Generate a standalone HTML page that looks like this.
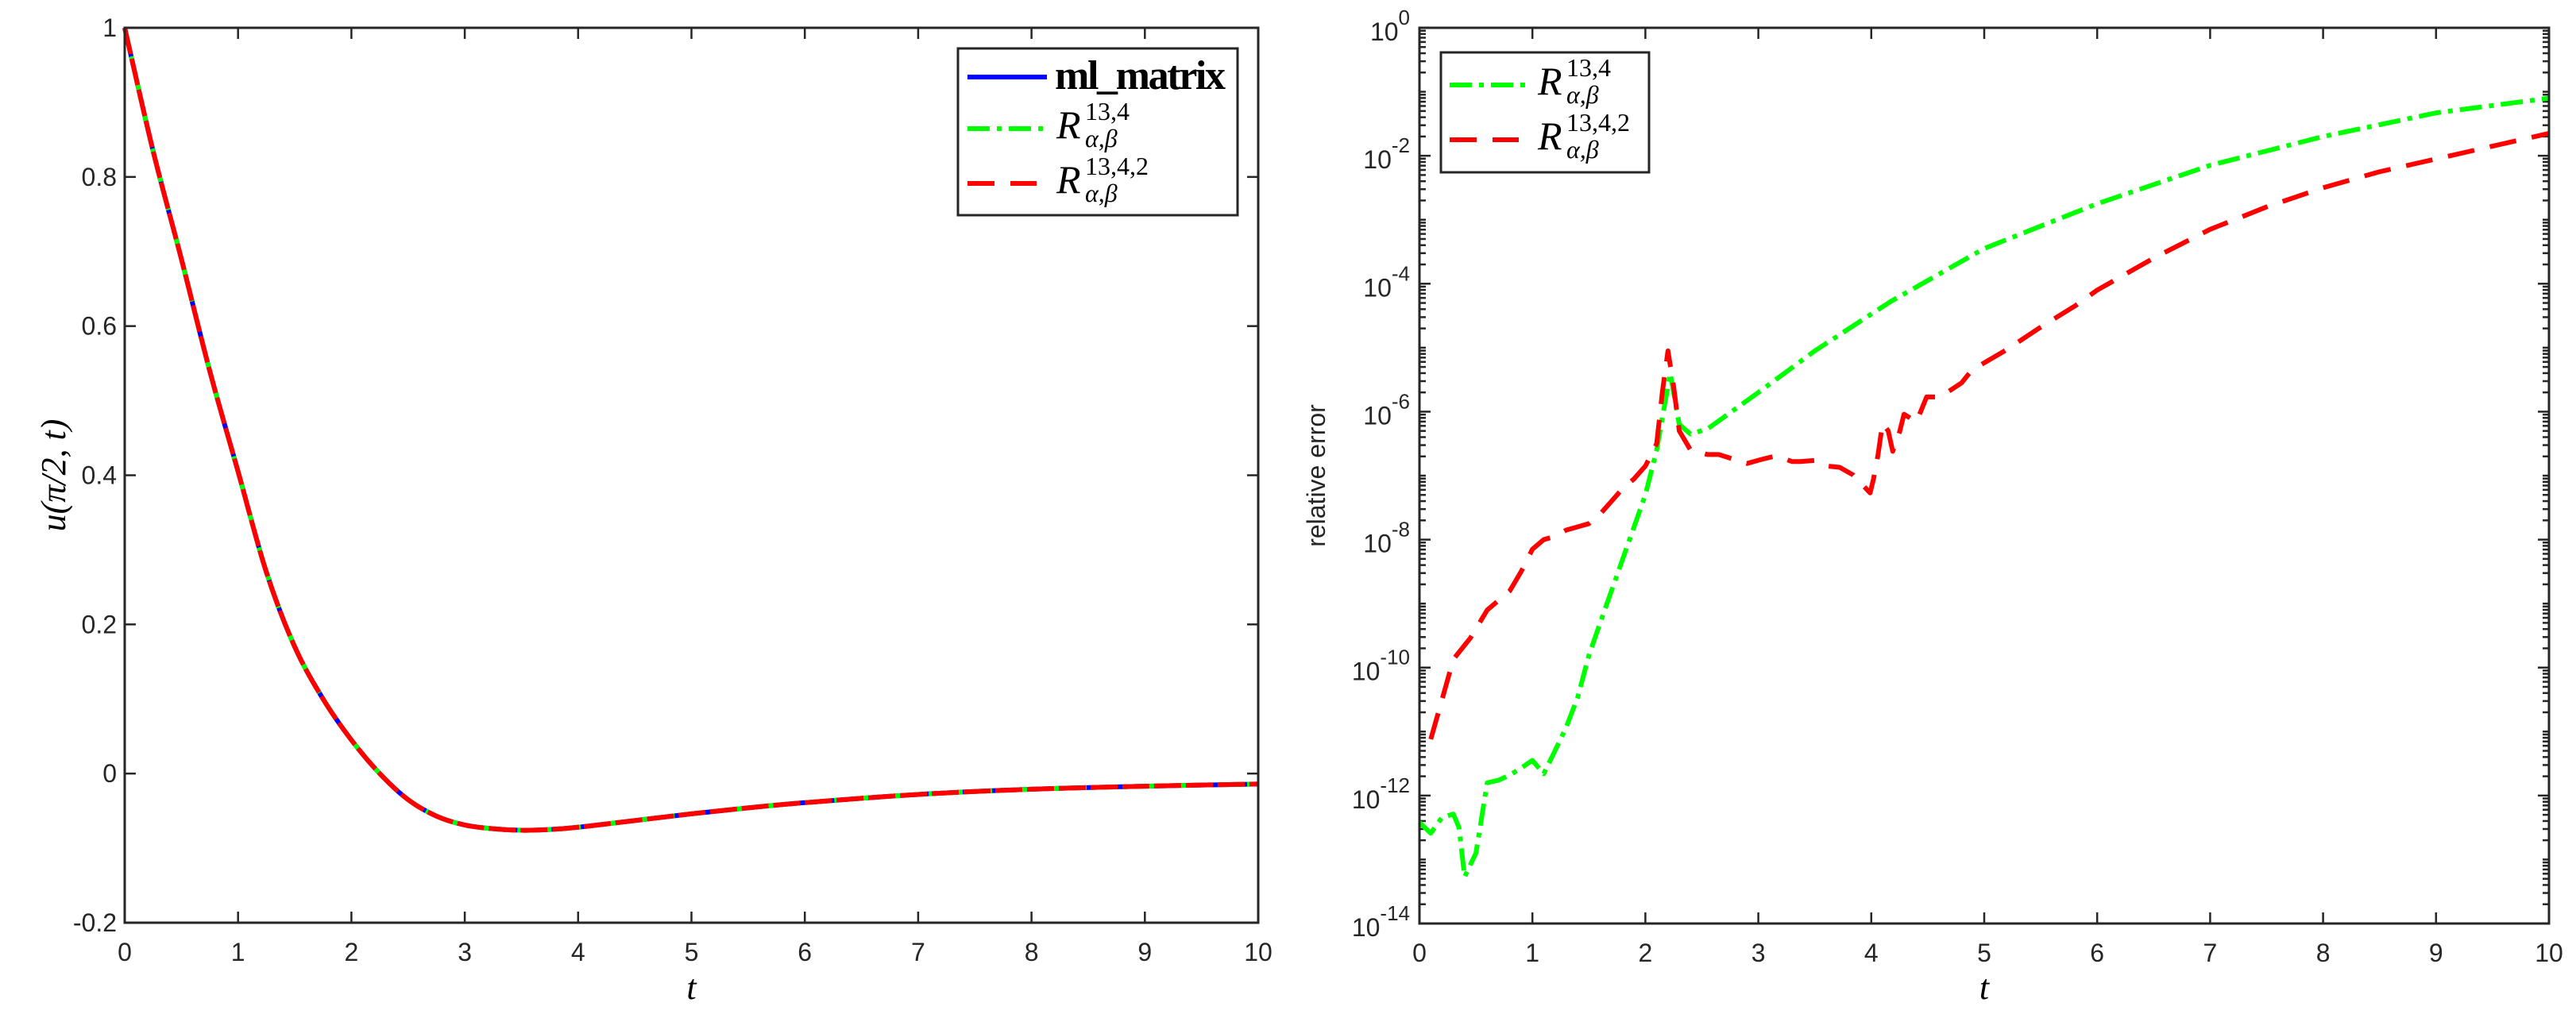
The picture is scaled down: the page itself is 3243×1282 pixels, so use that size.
<!DOCTYPE html>
<html><head><meta charset="utf-8">
<style>
html,body{margin:0;padding:0;background:#fff;}
svg{display:block;}
.tk{font-family:"Liberation Sans",sans-serif;font-size:32px;fill:#262626;}
.ser{font-family:"Liberation Serif",serif;}
</style></head>
<body>
<svg id="fig" width="3243" height="1282" viewBox="0 0 3243 1282" xmlns="http://www.w3.org/2000/svg">
<g id="left"></g>
<g id="right"></g>
</svg>
<script>
// ---- left chart data ----
const uT = [0,0.25,0.5,0.75,1,1.25,1.5,1.75,2,2.25,2.5,2.75,3,3.25,3.5,3.75,4,4.5,5,5.5,6,7,8,9,10];
const uVals = [1,0.835,0.69,0.54,0.405,0.27,0.17,0.10,0.045,0.0,-0.035,-0.057,-0.069,-0.074,-0.076,-0.075,-0.072,-0.063,-0.054,-0.046,-0.039,-0.028,-0.021,-0.017,-0.014];
const leftYTicks = [-0.2,0,0.2,0.4,0.6,0.8,1];
const leftYTickLabels = ["-0.2","0","0.2","0.4","0.6","0.8","1"];
const xTicks = [0,1,2,3,4,5,6,7,8,9,10];
// ---- right chart data ----
const greenT = [0,0.1,0.2,0.3,0.35,0.4,0.5,0.6,0.7,0.8,0.9,1.0,1.1,1.2,1.3,1.4,1.5,1.6,1.7,1.8,1.9,2.0,2.1,2.22,2.3,2.4,2.55,3,3.5,4.17,5,6,7,8,9,10];
const greenLog = [-12.42,-12.59,-12.34,-12.29,-12.5,-13.27,-12.9,-11.8,-11.76,-11.68,-11.57,-11.45,-11.66,-11.3,-10.93,-10.47,-9.81,-9.3,-8.8,-8.3,-7.8,-7.3,-6.6,-5.4,-6.2,-6.35,-6.27,-5.7,-5.05,-4.28,-3.45,-2.75,-2.15,-1.7,-1.33,-1.1];
const redT = [0.1,0.2,0.3,0.45,0.6,0.7,0.8,0.9,1.0,1.1,1.2,1.3,1.4,1.5,1.6,1.7,1.8,1.9,2.0,2.1,2.15,2.2,2.25,2.3,2.4,2.55,2.65,2.9,3.02,3.16,3.3,3.37,3.51,3.61,3.72,3.84,3.99,4.02,4.06,4.10,4.15,4.19,4.25,4.29,4.40,4.49,4.61,4.80,4.89,5.20,5.49,5.81,6,6.5,7,7.5,8,8.5,9,9.5,10];
const redLog = [-11.12,-10.5,-9.87,-9.54,-9.1,-8.95,-8.8,-8.5,-8.15,-8.0,-7.95,-7.85,-7.8,-7.75,-7.6,-7.4,-7.2,-7.05,-6.85,-6.5,-5.7,-5.05,-5.6,-6.3,-6.6,-6.67,-6.67,-6.81,-6.75,-6.69,-6.78,-6.78,-6.76,-6.85,-6.87,-6.99,-7.27,-7.05,-6.67,-6.18,-6.3,-6.62,-6.32,-6.04,-6.16,-5.77,-5.77,-5.55,-5.35,-5.03,-4.69,-4.34,-4.1,-3.6,-3.15,-2.8,-2.5,-2.25,-2.05,-1.85,-1.65];
const rightYMajor = [0,-2,-4,-6,-8,-10,-12,-14];

const NS="http://www.w3.org/2000/svg";
function mk(parent,tag,attrs,text){const e=document.createElementNS(NS,tag);for(const k in attrs)e.setAttribute(k,attrs[k]);if(text!==undefined)e.textContent=text;parent.appendChild(e);return e;}
const AX="#262626";

// ===== LEFT =====
const L={x0:157,x1:1584,y0:35,y1:1162};
const lx=t=>L.x0+(t-0)/10*(L.x1-L.x0);
const ly=v=>L.y1-(v+0.2)/1.2*(L.y1-L.y0);
const lg=document.getElementById('left');
xTicks.forEach(t=>{
  const a=mk(lg,'line',{x1:lx(t),x2:lx(t),y1:L.y1,y2:L.y1-14,stroke:AX,'stroke-width':2.5});
  
  mk(lg,'line',{x1:lx(t),x2:lx(t),y1:L.y0,y2:L.y0+14,stroke:AX,'stroke-width':2.5});
  const tx=mk(lg,'text',{x:lx(t),y:L.y1+48,'text-anchor':'middle',class:'tk'},String(t));
  
});
leftYTicks.forEach((v,i)=>{
  mk(lg,'line',{x1:L.x0,x2:L.x0+14,y1:ly(v),y2:ly(v),stroke:AX,'stroke-width':2.5});
  mk(lg,'line',{x1:L.x1,x2:L.x1-14,y1:ly(v),y2:ly(v),stroke:AX,'stroke-width':2.5});
  const tx=mk(lg,'text',{x:L.x0-10,y:ly(v)+11,'text-anchor':'end',class:'tk'},leftYTickLabels[i]);
  
});
function smoothPath(xs,ys){
  let d=`M${xs[0]},${ys[0]}`;
  for(let i=0;i<xs.length-1;i++){
    const x0=xs[Math.max(0,i-1)],y0=ys[Math.max(0,i-1)],x1=xs[i],y1=ys[i],x2=xs[i+1],y2=ys[i+1],x3=xs[Math.min(xs.length-1,i+2)],y3=ys[Math.min(xs.length-1,i+2)];
    d+=` C${x1+(x2-x0)/6},${y1+(y2-y0)/6} ${x2-(x3-x1)/6},${y2-(y3-y1)/6} ${x2},${y2}`;
  }
  return d;
}
const upx=uT.map(lx), upy=uVals.map(ly);
const ud=smoothPath(upx,upy);
const b=mk(lg,'path',{d:ud,fill:'none',stroke:'#0000ff','stroke-width':6});

const g=mk(lg,'path',{d:ud,fill:'none',stroke:'#00ff00','stroke-width':6,'stroke-dasharray':'28 9 6 9'});

const r=mk(lg,'path',{d:ud,fill:'none',stroke:'#ff0000','stroke-width':6,'stroke-dasharray':'34 6'});

mk(lg,'rect',{x:L.x0,y:L.y0,width:L.x1-L.x0,height:L.y1-L.y0,fill:'none',stroke:AX,'stroke-width':3});
const xl=mk(lg,'text',{x:(L.x0+L.x1)/2,y:1258,'text-anchor':'middle',class:'ser','font-size':44,'font-style':'italic',fill:'#000'},'t');

const yl=mk(lg,'text',{x:0,y:0,transform:`translate(82,${(L.y0+L.y1)/2}) rotate(-90)`,'text-anchor':'middle',class:'ser','font-size':44,'font-style':'italic',fill:'#000'},'u(π/2, t)');

// left legend
const lgd=mk(lg,'g',{});

mk(lgd,'rect',{x:1206,y:61,width:352,height:210,fill:'#fff',stroke:AX,'stroke-width':3});
mk(lgd,'line',{x1:1218,x2:1318,y1:97,y2:97,stroke:'#0000ff','stroke-width':6});
mk(lgd,'line',{x1:1218,x2:1318,y1:162,y2:162,stroke:'#00ff00','stroke-width':6,'stroke-dasharray':'28 9 6 9'});
mk(lgd,'line',{x1:1218,x2:1305,y1:231,y2:231,stroke:'#ff0000','stroke-width':6,'stroke-dasharray':'34 20'});
const e1=mk(lgd,'text',{x:1328,y:112,class:'ser','font-size':52,'font-weight':'bold',fill:'#000',textLength:215},'ml_matrix');

function rLabel(parent,x,y,sup,name){
  const grp=mk(parent,'g',{});
  
  mk(grp,'text',{x:x,y:y,class:'ser',fill:'#000','font-size':50,'font-style':'italic'},'R');
  mk(grp,'text',{x:x+36,y:y-23,class:'ser',fill:'#000','font-size':32},sup);
  mk(grp,'text',{x:x+36,y:y+11,class:'ser',fill:'#000','font-size':32,'font-style':'italic'},'α,β');
  return grp;
}
rLabel(lgd,1330,174,'13,4','legend-entry-r134');
rLabel(lgd,1330,243,'13,4,2','legend-entry-r1342');

// ===== RIGHT =====
const R={x0:1787,x1:3209,y0:35,y1:1163};
const rx=t=>R.x0+t/10*(R.x1-R.x0);
const ry=lg10=>R.y0+(0-lg10)/14*(R.y1-R.y0);
const rg=document.getElementById('right');
xTicks.forEach(t=>{
  const a=mk(rg,'line',{x1:rx(t),x2:rx(t),y1:R.y1,y2:R.y1-14,stroke:AX,'stroke-width':2.5});
  
  mk(rg,'line',{x1:rx(t),x2:rx(t),y1:R.y0,y2:R.y0+14,stroke:AX,'stroke-width':2.5});
  const tx=mk(rg,'text',{x:rx(t),y:R.y1+48,'text-anchor':'middle',class:'tk'},String(t));
  
});
for(let n=-14;n<0;n++){
  for(let k=2;k<=9;k++){
    const y=ry(n+Math.log10(k));
    mk(rg,'line',{x1:R.x0,x2:R.x0+8,y1:y,y2:y,stroke:AX,'stroke-width':2.5});
    mk(rg,'line',{x1:R.x1,x2:R.x1-8,y1:y,y2:y,stroke:AX,'stroke-width':2.5});
  }
}
for(let n=-14;n<=0;n++){
  const len=rightYMajor.includes(n)?14:8;
  mk(rg,'line',{x1:R.x0,x2:R.x0+len,y1:ry(n),y2:ry(n),stroke:AX,'stroke-width':2.5});
  mk(rg,'line',{x1:R.x1,x2:R.x1-len,y1:ry(n),y2:ry(n),stroke:AX,'stroke-width':2.5});
}
rightYMajor.forEach(n=>{
  const t=mk(rg,'text',{x:R.x0-12,y:ry(n)+16,'text-anchor':'end',class:'tk'});
  
  mk(t,'tspan',{},'10');
  mk(t,'tspan',{'font-size':26,dy:-20},String(n));
});
const gp=mk(rg,'polyline',{points:greenT.map((t,i)=>rx(t)+','+ry(greenLog[i])).join(' '),fill:'none',stroke:'#00ff00','stroke-width':6,'stroke-dasharray':'28 9 6 9','stroke-linejoin':'round'});

const rp=mk(rg,'polyline',{points:redT.map((t,i)=>rx(t)+','+ry(redLog[i])).join(' '),fill:'none',stroke:'#ff0000','stroke-width':6,'stroke-dasharray':'34 20','stroke-linejoin':'round'});

mk(rg,'rect',{x:R.x0,y:R.y0,width:R.x1-R.x0,height:R.y1-R.y0,fill:'none',stroke:AX,'stroke-width':3});
const xl2=mk(rg,'text',{x:(R.x0+R.x1)/2,y:1258,'text-anchor':'middle',class:'ser','font-size':44,'font-style':'italic',fill:'#000'},'t');

const yl2=mk(rg,'text',{x:0,y:0,transform:`translate(1668,${(R.y0+R.y1)/2}) rotate(-90)`,'text-anchor':'middle',class:'tk','font-size':28,fill:'#000'},'relative error');

const lgd2=mk(rg,'g',{});

mk(lgd2,'rect',{x:1814,y:66,width:262,height:151,fill:'#fff',stroke:AX,'stroke-width':3});
mk(lgd2,'line',{x1:1825,x2:1921,y1:107,y2:107,stroke:'#00ff00','stroke-width':6,'stroke-dasharray':'28 9 6 9'});
mk(lgd2,'line',{x1:1825,x2:1912,y1:176,y2:176,stroke:'#ff0000','stroke-width':6,'stroke-dasharray':'34 20'});
rLabel(lgd2,1936,119,'13,4','legend-entry-r134');
rLabel(lgd2,1936,188,'13,4,2','legend-entry-r1342');
</script>
</body></html>
